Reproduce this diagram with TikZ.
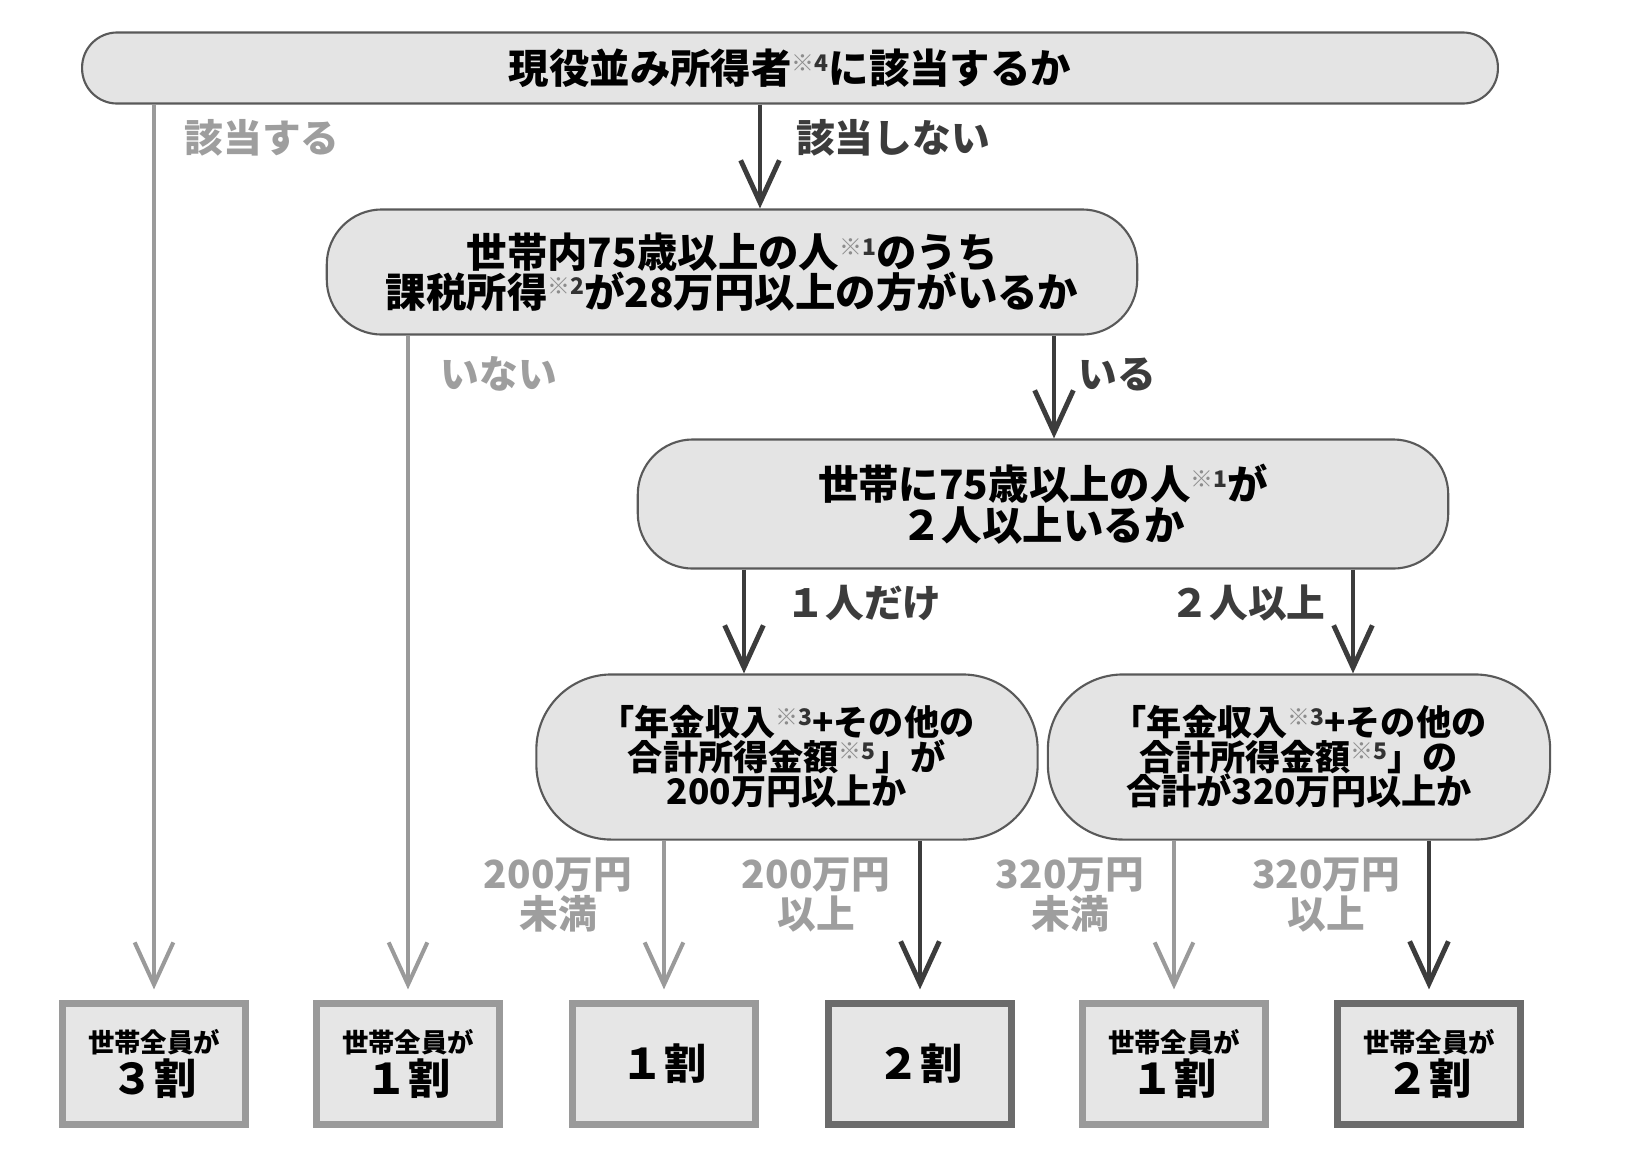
\documentclass[tikz,border=0pt]{standalone}
\usepackage{fontspec}
\setmainfont{Noto Sans CJK JP}
\usepackage{tikz}
\usetikzlibrary{arrows.meta}
\usepackage{xcolor}
\definecolor{darkline}{HTML}{3C3C3C}
\definecolor{lightline}{HTML}{9A9A9A}
\definecolor{qfill}{HTML}{E4E4E4}
\definecolor{rfill}{HTML}{E6E6E6}
\newcommand{\kome}[1]{\smash{\raisebox{0.3em}{\fontsize{6.5}{6.5}\selectfont\color{black!45}※\color{black!80}#1}}}
\newcommand{\jpfont}[2]{\bfseries\fontsize{#1}{#2}\selectfont\lineskiplimit=-20pt}

\begin{document}
\begin{tikzpicture}[x=0.01cm,y=-0.01cm,>={Straight Barb[length=12pt,width=11pt]},
  question/.style={draw=black!65,line width=0.6pt,fill=qfill,align=center,inner sep=0pt,
    font=\jpfont{11.5}{11.3}},
  result/.style={draw=lightline,line width=2pt,fill=rfill,align=center,inner sep=0pt,
    minimum width=1.83cm,minimum height=1.21cm,font=\jpfont{12}{11.8}},
  yes/.style={->,draw=darkline,line width=1.4pt},
  no/.style={->,draw=lightline,line width=1.15pt},
  darklabel/.style={text=darkline,align=center,font=\jpfont{11}{11.3}},
  lightlabel/.style={text=black!38,align=center,font=\jpfont{11}{11.3}}]
\useasboundingbox (0,0) rectangle (1637,1169);
%%%QUESTIONS
\node[question,rounded corners=0.35cm,minimum width=14.15cm,minimum height=0.71cm] (top) at (790,68)
  {現役並み所得者\kome{4}に該当するか};
\node[question,rounded corners=0.55cm,minimum width=8.1cm,minimum height=1.25cm] (q2) at (732,272)
  {世帯内75歳以上の人\kome{1}のうち\\課税所得\kome{2}が28万円以上の方がいるか};
\node[question,rounded corners=0.55cm,minimum width=8.1cm,minimum height=1.29cm,
  font=\jpfont{11.5}{11.5}] (q3) at (1043,504)
  {世帯に75歳以上の人\kome{1}が\\２人以上いるか};
\node[question,rounded corners=0.75cm,minimum width=5.01cm,minimum height=1.65cm,
  font=\jpfont{10}{9.8}] (q4) at (787,757)
  {「年金収入\kome{3}+その他の\\合計所得金額\kome{5}」が\\200万円以上か};
\node[question,rounded corners=0.75cm,minimum width=5.02cm,minimum height=1.65cm,
  font=\jpfont{10}{9.8}] (q5) at (1299,757)
  {「年金収入\kome{3}+その他の\\合計所得金額\kome{5}」の\\合計が320万円以上か};
%%%RESULTS
\node[result] (r1) at (154,1064) {{\fontsize{7.5}{8}\selectfont 世帯全員が}\\３割};
\node[result] (r2) at (408,1064) {{\fontsize{7.5}{8}\selectfont 世帯全員が}\\１割};
\node[result] (r3) at (664,1064) {１割};
\node[result,draw=black!58] (r4) at (920,1064) {２割};
\node[result] (r5) at (1174,1064) {{\fontsize{7.5}{8}\selectfont 世帯全員が}\\１割};
\node[result,draw=black!58] (r6) at (1429,1064) {{\fontsize{7.5}{8}\selectfont 世帯全員が}\\２割};
%%%ARROWS
\draw[no,shorten >=3pt] (top.south -| r1.north) -- (r1.north);
\draw[yes] (top.south -| 760,0) -- (q2.north -| 760,0);
\draw[no,shorten >=3pt] (q2.south -| r2.north) -- (r2.north);
\draw[yes] (q2.south -| 1054,0) -- (q3.north -| 1054,0);
\draw[yes] (q3.south -| 744,0) -- (q4.north -| 744,0);
\draw[yes] (q3.south -| 1353,0) -- (q5.north -| 1353,0);
\draw[no,shorten >=3pt] (q4.south -| r3.north) -- (r3.north);
\draw[yes,shorten >=3pt] (q4.south -| r4.north) -- (r4.north);
\draw[no,shorten >=3pt] (q5.south -| r5.north) -- (r5.north);
\draw[yes,shorten >=3pt] (q5.south -| r6.north) -- (r6.north);
%%%LABELS
\node[lightlabel] (l-yes1) at (262,138) {該当する};
\node[darklabel] (l-no1) at (893,138) {該当しない};
\node[lightlabel] (l-no2) at (499,374) {いない};
\node[darklabel] (l-yes2) at (1117,374) {いる};
\node[darklabel] (l-one) at (864,603) {１人だけ};
\node[darklabel] (l-two) at (1248,603) {２人以上};
\node[lightlabel] (l-a) at (558,895) {200万円\\未満};
\node[lightlabel] (l-b) at (816,895) {200万円\\以上};
\node[lightlabel] (l-c) at (1070,895) {320万円\\未満};
\node[lightlabel] (l-d) at (1326,895) {320万円\\以上};
\end{tikzpicture}
\end{document}
